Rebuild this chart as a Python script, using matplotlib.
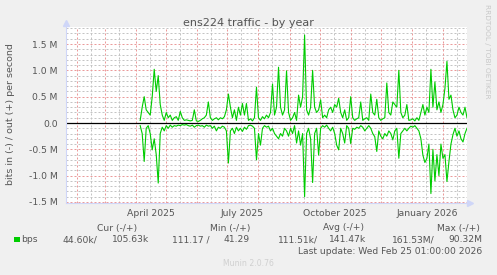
import numpy as np
import pandas as pd
import matplotlib
matplotlib.use("Agg")
import matplotlib.pyplot as plt
from matplotlib.patches import Rectangle

# ---- data (Mbit/s), one sample every 2 days ----
dates = pd.date_range("2025-04-05 01:00", periods=164, freq="2D")
out_bps = [0.05, 0.30, 0.50, 0.25, 0.20, 0.15, 0.50, 1.02, 0.60, 0.90,
           0.35, 0.15, 0.05, 0.20, 0.10, 0.15, 0.05, 0.10, 0.12, 0.05,
           0.22, 0.10, 0.05, 0.06, 0.05, 0.04, 0.05, 0.25, 0.04, 0.03,
           0.05, 0.08, 0.10, 0.15, 0.40, 0.10, 0.05, 0.08, 0.10, 0.06,
           0.10, 0.08, 0.12, 0.25, 0.55, 0.30, 0.10, 0.25, 0.05, 0.30,
           0.15, 0.37, 0.15, 0.37, 0.05, 0.08, 0.04, 0.10, 0.68, 0.10,
           0.05, 0.12, 0.08, 0.15, 0.10, 0.20, 0.74, 0.15, 0.30, 1.06,
           0.30, 0.15, 0.25, 0.99, 0.20, 0.05, 0.10, 0.20, 0.05, 0.53,
           0.30, 0.50, 1.67, 0.25, 0.15, 0.30, 1.00, 0.30, 0.20, 0.25,
           0.44, 0.10, 0.15, 0.10, 0.25, 0.30, 0.20, 0.35, 0.30, 0.47,
           0.20, 0.10, 0.25, 0.05, 0.10, 0.50, 0.10, 0.05, 0.08, 0.10,
           0.40, 0.05, 0.08, 0.10, 0.05, 0.55, 0.20, 0.15, 0.45, 0.10,
           0.05, 0.08, 0.10, 0.76, 0.20, 0.15, 0.40, 0.35, 0.30, 1.00,
           0.20, 0.10, 0.15, 0.35, 0.05, 0.06, 0.08, 0.04, 0.10, 0.05,
           0.20, 0.35, 0.15, 0.30, 0.20, 1.02, 0.30, 0.78, 0.25, 0.40,
           0.20, 0.35, 0.66, 1.17, 0.45, 0.53, 0.25, 0.10, 0.15, 0.30,
           0.20, 0.15, 0.30, 0.10]
in_bps = [0.05, 0.20, 0.73, 0.10, 0.05, 0.20, 0.51, 0.30, 0.60, 1.14,
          0.20, 0.08, 0.15, 0.05, 0.10, 0.04, 0.08, 0.05, 0.06, 0.04,
          0.05, 0.03, 0.04, 0.03, 0.05, 0.06, 0.04, 0.08, 0.05, 0.04,
          0.06, 0.05, 0.08, 0.04, 0.06, 0.05, 0.10, 0.06, 0.15, 0.08,
          0.10, 0.06, 0.08, 0.15, 0.76, 0.15, 0.10, 0.20, 0.08, 0.15,
          0.10, 0.16, 0.08, 0.12, 0.05, 0.04, 0.06, 0.10, 0.70, 0.20,
          0.42, 0.10, 0.05, 0.08, 0.06, 0.15, 0.10, 0.20, 0.25, 0.30,
          0.20, 0.25, 0.10, 0.15, 0.25, 0.10, 0.20, 0.05, 0.38, 0.15,
          0.42, 0.20, 1.40, 0.20, 0.10, 0.30, 1.13, 0.20, 0.10, 0.61,
          0.10, 0.05, 0.08, 0.04, 0.10, 0.15, 0.08, 0.20, 0.42, 0.51,
          0.10, 0.20, 0.38, 0.05, 0.10, 0.39, 0.10, 0.12, 0.08, 0.10,
          0.05, 0.08, 0.15, 0.10, 0.05, 0.10, 0.20, 0.26, 0.54, 0.15,
          0.25, 0.30, 0.20, 0.25, 0.15, 0.20, 0.32, 0.15, 0.10, 0.67,
          0.20, 0.15, 0.10, 0.15, 0.10, 0.06, 0.08, 0.05, 0.10, 0.15,
          0.30, 0.61, 0.75, 0.67, 0.40, 1.34, 0.50, 1.10, 0.60, 1.00,
          0.40, 0.67, 0.60, 1.11, 0.73, 0.40, 0.22, 0.10, 0.25, 0.15,
          0.30, 0.36, 0.20, 0.10]

ytick_vals = [-1.5, -1.0, -0.5, 0.0, 0.5, 1.0, 1.5]
ytick_labels = ["-1.5 M", "-1.0 M", "-0.5 M", "0.0", "0.5 M", "1.0 M", "1.5 M"]
xtick_labels = ["April 2025", "July 2025", "October 2025", "January 2026"]
xtick_dates = pd.to_datetime(["2025-04-16", "2025-07-16", "2025-10-16", "2026-01-16"])

legend_headers = ["Cur (-/+)", "Min (-/+)", "Avg (-/+)", "Max (-/+)"]
legend_values = [("44.60k/", "105.63k"), ("111.17 /", "41.29"),
                 ("111.51k/", "141.47k"), ("161.53M/", "90.32M")]

start = pd.Timestamp("2025-01-21 01:00")
end = pd.Timestamp("2026-02-25 01:00")

# ---- figure ----
W, H = 497, 275
fig = plt.figure(figsize=(W / 100, H / 100), dpi=100, facecolor="#F0F0F0")
L, R, T, B = 66, 467, 27, 203
ax = fig.add_axes([L / W, 1 - B / H, (R - L) / W, (B - T) / H])
ax.set_facecolor("white")

FC = "#555555"
FONT = "DejaVu Sans"
MINOR_C = "#c4c4c4"
MAJOR_C = "#eb9a9a"
DOT = (0, (2, 2))

ax.set_xlim(start, end)
ax.set_ylim(-1.519, 1.823)

# grid
minor_y = np.round(np.arange(-1.5, 1.81, 0.1), 2)
for v in minor_y:
    if abs(v * 2 - round(v * 2)) > 1e-6:
        ax.axhline(v, color=MINOR_C, lw=0.72, ls=DOT, zorder=1)
for v in ytick_vals:
    ax.axhline(v, color=MAJOR_C, lw=0.72, ls=DOT, zorder=1.5)
month_starts = pd.date_range("2025-02-01", "2026-02-01", freq="MS")
mid_months = pd.date_range("2025-01-01", "2026-02-01", freq="MS") + pd.Timedelta(days=14)
for d in mid_months:
    if start < d < end:
        ax.axvline(d, color=MINOR_C, lw=0.72, ls=DOT, zorder=1)
for d in month_starts:
    ax.axvline(d, color=MAJOR_C, lw=0.72, ls=DOT, zorder=1.5)

# zero line
ax.axhline(0, color="black", lw=0.9, zorder=2)

# data
ax.plot(dates, out_bps, color="#00CC00", lw=0.8, zorder=3)
ax.plot(dates, -np.array(in_bps), color="#00CC00", lw=0.8, zorder=3)

# spines / axes
for s in ["top", "right"]:
    ax.spines[s].set_visible(False)
for s in ["left", "bottom"]:
    ax.spines[s].set_color("#CFD6F8")
    ax.spines[s].set_linewidth(0.8)
ax.plot([0], [1.0 + 4 / (B - T)], marker="^", ms=4, color="#CFD6F8",
        transform=ax.transAxes, clip_on=False, zorder=4)
ax.plot([1.0 + 3 / (R - L)], [0], marker=">", ms=4, color="#CFD6F8",
        transform=ax.transAxes, clip_on=False, zorder=4)

ax.set_yticks(ytick_vals)
ax.set_yticklabels(ytick_labels, fontsize=6.7, color=FC, family=FONT)
ax.set_xticks(xtick_dates)
ax.set_xticklabels(xtick_labels, fontsize=6.7, color=FC, family=FONT)
ax.tick_params(axis="both", length=0)
ax.tick_params(axis="y", pad=6)
ax.tick_params(axis="x", pad=4)

def fx(px):
    return px / W

def fy(py):
    return 1 - py / H

fig.text(fx(248), fy(26), "ens224 traffic - by year", ha="center", va="baseline",
         fontsize=8.0, color=FC, family=FONT)
fig.text(fx(11), fy(114), "bits in (-) / out (+) per second", rotation=90,
         ha="center", va="center", fontsize=6.8, color=FC, family=FONT)
fig.text(fx(487), fy(51), "RRDTOOL / TOBI OETIKER", rotation=270,
         ha="center", va="center", fontsize=5.3, color="#c8c8c8", family=FONT)

# legend
header_right = [137, 250, 364, 480]
for h, xr in zip(legend_headers, header_right):
    fig.text(fx(xr), fy(228), h, ha="right", va="center", fontsize=6.6,
             color=FC, family=FONT)
fig.patches.append(Rectangle((fx(14), fy(242)), 6 / W, 5 / H, transform=fig.transFigure,
                             facecolor="#00CC00", edgecolor="none"))
fig.text(fx(21), fy(240), "bps", ha="left", va="center", fontsize=6.6,
         color=FC, family=FONT)
val_right = [(97, 149), (210, 250), (318, 366), (435, 482)]
for (a, b), (xa, xb) in zip(legend_values, val_right):
    fig.text(fx(xa), fy(240), a, ha="right", va="center", fontsize=6.6,
             color=FC, family=FONT)
    fig.text(fx(xb), fy(240), b, ha="right", va="center", fontsize=6.6,
             color=FC, family=FONT)
fig.text(fx(482), fy(251), "Last update: Wed Feb 25 01:00:00 2026", ha="right",
         va="center", fontsize=6.6, color=FC, family=FONT)
fig.text(fx(248), fy(263), "Munin 2.0.76", ha="center", va="center",
         fontsize=5.6, color="#d0d0d0", family=FONT)

fig.savefig("out.png", dpi=100, facecolor=fig.get_facecolor())
